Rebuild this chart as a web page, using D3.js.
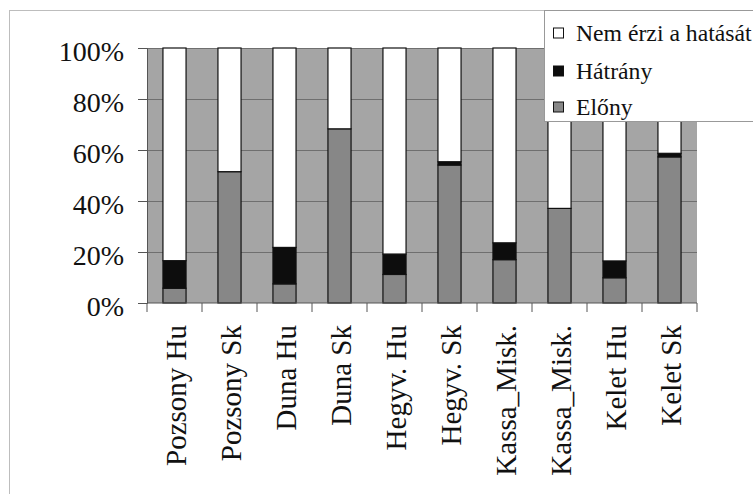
<!doctype html>
<html>
<head>
<meta charset="utf-8">
<title>Előny / Hátrány</title>
<script src="https://d3js.org/d3.v7.min.js"></script>
<style>
  body { margin: 0; background: #fff; }
  svg text { font-family: "Liberation Serif", "Times New Roman", serif; fill: #111; }
  .axis path, .axis line { stroke: #555; }
</style>
</head>
<body>
<div id="chart"></div>
<script>
// data (percent of respondents)
var categories = ["Pozsony Hu", "Pozsony Sk", "Duna Hu", "Duna Sk", "Hegyv. Hu",
                  "Hegyv. Sk", "Kassa_Misk.", "Kassa_Misk.", "Kelet Hu", "Kelet Sk"];
var elony   = [5.8, 51.5, 7.5, 68.3, 11.2, 54.1, 17.0, 37.1, 9.9, 57.3];
var hatrany = [10.8, 0, 14.3, 0, 8.0, 1.3, 6.6, 0, 6.6, 1.4];
var nemErzi = [83.4, 48.5, 78.2, 31.7, 80.8, 44.6, 76.4, 62.9, 83.5, 41.3];
var yTicks  = [0, 20, 40, 60, 80, 100];
var seriesNames = ["Nem érzi a hatását", "Hátrány", "Előny"];

var W = 753, H = 494;
var plot = {left: 147, right: 697, top: 48, bottom: 303};
var serif = "'Liberation Serif', 'Times New Roman', serif";

var svg = d3.select("#chart").append("svg")
    .attr("width", W).attr("height", H);

// outer chart frame
svg.append("rect")
    .attr("x", 9.5).attr("y", 10.5)
    .attr("width", W + 20).attr("height", H + 20)
    .attr("fill", "#fff").attr("stroke", "#bdbdbd");

var x = d3.scaleBand()
    .domain(d3.range(categories.length))
    .range([plot.left, plot.right])
    .paddingInner(0.58).paddingOuter(0.29);

var y = d3.scaleLinear().domain([0, 100]).range([plot.bottom, plot.top]);

// plot area background
svg.append("rect")
    .attr("x", plot.left).attr("y", plot.top)
    .attr("width", plot.right - plot.left).attr("height", plot.bottom - plot.top)
    .attr("fill", "#a5a5a5");

// gridlines
svg.append("g").selectAll("line")
  .data(yTicks.slice(1))
  .join("line")
    .attr("x1", plot.left).attr("x2", plot.right)
    .attr("y1", function(d) { return y(d) + 0.5; })
    .attr("y2", function(d) { return y(d) + 0.5; })
    .attr("stroke", "#6f6f6f");

// stack
var rows = categories.map(function(c, i) {
  return {i: i, elony: elony[i], hatrany: hatrany[i], nem: nemErzi[i]};
});
var keys = ["elony", "hatrany", "nem"];
var colors = {elony: "#878787", hatrany: "#0d0d0d", nem: "#ffffff"};
var stacked = d3.stack().keys(keys)(rows);

svg.append("g").selectAll("g")
  .data(stacked)
  .join("g")
    .attr("fill", function(s) { return colors[s.key]; })
  .selectAll("rect")
  .data(function(s) { return s; })
  .join("rect")
    .attr("x", function(d) { return x(d.data.i); })
    .attr("width", x.bandwidth())
    .attr("y", function(d) { return y(d[1]); })
    .attr("height", function(d) { return y(d[0]) - y(d[1]); })
    .attr("stroke", "#111")
    .attr("stroke-width", 1.2);

// y axis
var yAxis = svg.append("g")
    .attr("class", "axis")
    .attr("font-family", serif)
    .attr("transform", "translate(" + plot.left + ",0)")
    .call(d3.axisLeft(y).tickValues(yTicks).tickSize(9).tickPadding(14)
      .tickFormat(function(d) { return d + "%"; }));
yAxis.selectAll("text")
    .attr("font-family", serif)
    .style("font-size", "28px")
    .attr("dy", "0.45em");

// x axis with ticks on category boundaries
var xAxis = svg.append("g")
    .attr("class", "axis")
    .attr("transform", "translate(0," + plot.bottom + ")");
xAxis.append("line")
    .attr("x1", plot.left).attr("x2", plot.right)
    .attr("stroke", "#555");
xAxis.selectAll("line.tick")
  .data(d3.range(categories.length + 1))
  .join("line")
    .attr("class", "tick")
    .attr("x1", function(i) { return plot.left + i * x.step(); })
    .attr("x2", function(i) { return plot.left + i * x.step(); })
    .attr("y1", 0).attr("y2", 9)
    .attr("stroke", "#777");
xAxis.selectAll("text")
  .data(categories)
  .join("text")
    .attr("transform", function(d, i) {
      return "translate(" + (x(i) + x.bandwidth() / 2 + 1) + ",22) rotate(-90)";
    })
    .attr("font-family", serif)
    .attr("text-anchor", "end")
    .attr("dominant-baseline", "central")
    .style("font-size", "29px")
    .text(function(d) { return d; });

// legend
var legend = svg.append("g");
legend.append("rect")
    .attr("x", 544.5).attr("y", 10.5)
    .attr("width", 240).attr("height", 111)
    .attr("fill", "#fff").attr("stroke", "#999");
var legendFill = ["#ffffff", "#0d0d0d", "#878787"];
var legendY = [33, 71, 107];
seriesNames.forEach(function(name, i) {
  legend.append("rect")
      .attr("x", 553.5).attr("y", legendY[i] - 5)
      .attr("width", 10).attr("height", 10)
      .attr("fill", legendFill[i]).attr("stroke", "#111");
  legend.append("text")
      .attr("x", 576).attr("y", legendY[i])
      .attr("font-family", serif)
      .attr("dominant-baseline", "central")
      .style("font-size", "23.7px")
      .text(name);
});
</script>
</body>
</html>
